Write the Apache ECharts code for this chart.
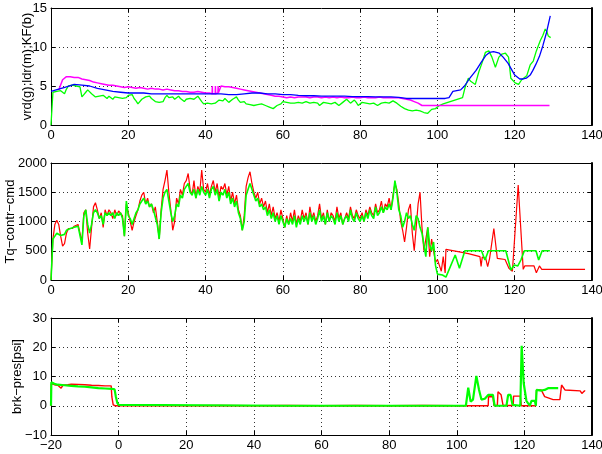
<!DOCTYPE html>
<html>
<head>
<meta charset="utf-8">
<script src="https://cdn.jsdelivr.net/npm/echarts@6/dist/echarts.min.js"></script>
<style>
  html, body { margin: 0; padding: 0; background: #fff; }
  #chart { width: 602px; height: 454px; }
</style>
</head>
<body>
<div id="chart"></div>
<script>
// ---------- Panel 1: speed estimates (vrd = green, ldr = magenta, KF = blue) ----------
// Green speed sampled every 0.5 from x = 0 up to x = 106
const vrdStep = [
  0, 4.2, 4.0, 4.3, 4.1, 4.4, 4.2, 4.0, 4.6, 5.0, 5.2, 5.1, 5.2, 5.0, 5.1, 4.9, 3.6, 3.9, 4.2, 4.5, 4.3,
  4.0, 3.8, 3.6, 3.8, 3.7, 3.5, 3.8, 3.6, 3.4, 3.7, 3.5, 3.3, 3.6, 3.4, 3.5, 3.7, 3.4, 3.3, 3.5,
  3.8, 3.6, 3.9, 3.4, 3.1, 2.7, 2.9, 3.3, 3.2, 3.6, 3.5, 3.7, 3.4, 3.3, 3.0, 3.2, 2.9, 3.1, 3.0,
  3.5, 3.8, 3.5, 3.4, 3.6, 3.3, 3.5, 3.7, 3.4, 3.2, 3.0, 3.3, 3.5, 3.4, 3.6, 3.3, 3.5, 3.7, 3.5,
  3.0, 2.7, 2.9, 2.8, 3.0, 2.7, 2.5, 2.8, 3.0, 3.2, 3.3, 3.1, 3.4, 3.2, 2.9, 3.1, 3.3, 3.5, 3.6,
  3.2, 2.9, 2.8, 3.0, 2.7, 2.9, 2.6, 2.8, 2.5, 2.7, 2.6, 2.4, 2.7, 2.8, 2.5, 2.7, 2.3, 2.2, 2.1,
  2.3, 2.5, 2.4, 2.7, 3.0, 3.2, 2.9, 2.7, 2.8, 2.6, 2.8, 3.0, 2.9, 3.1, 2.8, 2.7, 3.0, 2.9, 2.8,
  2.6, 2.9, 3.0, 2.8, 2.5, 2.7, 2.9, 3.1, 2.8, 3.0, 2.7, 2.6, 2.9, 2.8, 2.5, 2.7, 2.9, 3.0, 3.3,
  3.1, 2.8, 3.0, 3.2, 2.9, 2.5, 2.7, 2.9, 3.1, 2.8, 3.0, 2.7, 2.6, 2.8, 2.7, 2.5, 2.6, 2.8, 2.7,
  2.9, 3.0, 2.8, 3.0, 3.1, 2.9, 2.8, 2.6, 2.4, 2.2, 2.1, 2.0, 1.9, 1.9, 1.8, 1.8, 1.9, 1.8, 1.8,
  1.7, 1.6, 1.5, 1.5, 1.7, 2.0, 2.2, 2.1, 2.3, 2.5, 2.6, 2.7
];
const vrdTail = [
  [106.5, 3.5], [107.2, 4.9], [108, 6.0], [108.6, 5.6], [109, 5.8], [109.8, 5.2], [110.7, 6.8],
  [111.5, 7.9], [112.4, 9.3], [113.3, 9.5], [114.1, 8.7], [115, 7.4], [115.9, 8.7], [116.7, 9.1],
  [117.6, 9.2], [118.4, 8.7], [119, 6.0], [120.1, 5.4], [121, 5.2], [121.8, 5.8], [123.1, 6.3],
  [124, 7.7], [124.8, 8.2], [125.6, 9.5], [126.6, 10.8], [127.3, 11.5], [127.9, 12.3], [128.3, 12.0],
  [128.7, 11.4], [129.3, 11.2]
];

// Magenta speed, every 1.0 from x = 2 to 41, short spikes, then every 1.0 from x = 44 to 96
const ldrA = [
  4.5, 5.8, 6.2, 6.2, 6.1, 6.1, 5.9, 5.8, 5.7, 5.5, 5.4, 5.3, 5.2, 5.1, 5.1, 5.0, 4.9, 4.8, 4.9, 4.8,
  4.7, 4.8, 4.7, 4.6, 4.7, 4.6, 4.6, 4.5, 4.6, 4.5, 4.4, 4.4, 4.3, 4.3, 4.2, 4.2, 4.3, 4.2, 4.1, 4.1
];
const ldrSpikes = [
  [41.7, 4.0], [41.75, 5.0], [41.8, 4.0], [42.5, 4.0], [42.55, 5.0], [42.6, 4.0],
  [43.2, 4.1], [43.25, 5.0], [43.3, 4.1]
];
const ldrB = [
  5.0, 4.9, 4.9, 4.8, 4.7, 4.6, 4.5, 4.4, 4.3, 4.2, 4.1, 4.0, 3.9, 3.8, 3.7, 3.7, 3.6, 3.5, 3.6, 3.5, 3.6,
  3.6, 3.6, 3.5, 3.6, 3.6, 3.5, 3.6, 3.5, 3.6, 3.5, 3.6, 3.5, 3.5, 3.6, 3.5, 3.5,
  3.6, 3.5, 3.5, 3.5, 3.6, 3.5, 3.5, 3.5, 3.5, 3.5, 3.4, 3.3, 3.2, 3.0, 2.8, 2.5
];
const ldrTail = [[129, 2.5]];

// Blue filtered speed, every 2.0 from x = 0 to 102
const kfStep = [
  4.3, 4.6, 4.9, 5.2, 5.1, 5.0, 4.7, 4.5, 4.3, 4.2, 4.1, 4.1, 4.1, 4.0, 4.0, 4.0, 4.0, 4.0, 4.0, 4.0,
  4.0, 4.0, 4.0, 3.9, 3.9, 4.0, 4.1, 4.1, 4.0, 4.0, 3.9, 3.9, 3.8, 3.75, 3.75, 3.7, 3.7, 3.7, 3.7,
  3.65, 3.65, 3.65, 3.6, 3.6, 3.6, 3.55, 3.4, 3.4, 3.4, 3.4, 3.4, 3.4
];
const kfTail = [
  [103, 3.5], [104, 4.3], [105, 4.4], [106, 4.5], [107, 5.0], [108.4, 6.0], [110, 7.0], [111.4, 8.1],
  [112.5, 8.9], [113.5, 9.3], [114.5, 9.4], [116, 9.2], [117, 8.7], [118.3, 7.9], [119.2, 7.1],
  [120, 6.4], [121.3, 5.9], [122.2, 5.9], [123, 6.0], [124, 6.4], [124.7, 7.0], [125.5, 7.8],
  [126.4, 8.8], [127.3, 10.2], [128.2, 11.8], [129.2, 14.0]
];

// ---------- Panel 2: torque commands (red and green), every 0.5 from x = 0 to 100 ----------
const tqRedStep = [
  0, 700, 950, 1020, 950, 750, 580, 620, 800, 880, 900, 880, 920, 900, 950, 980, 650, 1150, 1200, 800,
  530, 900, 1250, 1320, 1200, 1050, 1150, 900, 1200, 1100, 1200, 1150, 1050, 1200, 1100, 1180, 1150, 1100, 750, 1300,
  1150, 1000, 850, 1000, 1100, 1200, 1350, 1450, 1500, 1300, 1400, 1250, 1300, 1150, 1250, 1000, 700, 1200, 1550, 1700,
  1880, 1500, 1200, 850, 1000, 1400, 1300, 1550, 1450, 1650, 1700, 1820, 1550, 1450, 1700, 1400, 1600, 1500, 1880, 1550,
  1500, 1650, 1450, 1600, 1700, 1500, 1650, 1400, 1600, 1550, 1650, 1450, 1600, 1350, 1500, 1300, 1450, 1200, 1100, 850,
  1100, 1600, 1750, 1850, 1650, 1500, 1400, 1500, 1300, 1400, 1250, 1350, 1150, 1300, 1100, 1250, 1050, 1150, 1000, 1200,
  1050, 900, 1100, 950, 1150, 1000, 1200, 950, 1100, 1000, 1200, 1050, 1150, 950, 1250, 1050, 1150, 1000, 1100, 1300,
  1050, 1150, 950, 1200, 1000, 1150, 1100, 1000, 1250, 1050, 1150, 950, 1050, 1150, 1050, 1250, 1100, 1050, 1200, 1100,
  1050, 1150, 1000, 1200, 1100, 1250, 1150, 1100, 1300, 1150, 1200, 1350, 1150, 1300, 1250, 1400, 1200, 1450, 1650, 1550,
  1300, 1000, 850, 650, 900, 1200, 1300, 800, 500, 900, 1300, 1500, 900, 500, 700, 900, 400, 700, 500, 300,
  350
];
const tqRedTail = [
  [100.5, 250], [101, 150], [101.5, 400], [102, 120], [102.2, 524], [105, 490], [108, 450], [111, 400],
  [111.3, 230], [111.6, 390], [112.5, 370], [113, 230], [113.5, 370], [114.6, 880], [115.5, 370],
  [117.5, 350], [118.5, 200], [119, 220], [119.4, 150], [120.9, 1624], [122.2, 182], [122.6, 240],
  [125, 240], [125.6, 125], [126.4, 240], [127, 182], [138.2, 182]
];
const tqGreenStep = [
  0, 700, 750, 800, 800, 760, 750, 780, 850, 870, 880, 860, 900, 880, 920, 950, 600, 1100, 1200, 950,
  800, 950, 1150, 1200, 1150, 1050, 1100, 950, 1150, 1100, 1150, 1100, 1150, 1050, 1150, 1100, 1150, 1050, 750, 1350,
  1100, 1050, 950, 1050, 1150, 1200, 1300, 1350, 1400, 1300, 1350, 1250, 1300, 1200, 1200, 950, 700, 1150, 1400, 1500,
  1550, 1350, 1150, 1000, 1100, 1300, 1250, 1450, 1400, 1550, 1600, 1650, 1500, 1450, 1550, 1400, 1550, 1450, 1600, 1500,
  1450, 1550, 1400, 1550, 1600, 1450, 1550, 1350, 1500, 1450, 1550, 1400, 1500, 1300, 1400, 1250, 1350, 1150, 1050, 850,
  1000, 1450, 1550, 1650, 1550, 1450, 1350, 1400, 1250, 1300, 1200, 1250, 1100, 1200, 1050, 1150, 1000, 1100, 950, 1100,
  1000, 900, 1050, 950, 1050, 950, 1100, 900, 1050, 950, 1100, 1000, 1100, 950, 1150, 1000, 1100, 950, 1050, 1200,
  1000, 1100, 950, 1150, 1000, 1100, 1050, 950, 1150, 1000, 1100, 950, 1050, 1100, 1000, 1200, 1050, 1000, 1150, 1050,
  1000, 1100, 1000, 1150, 1050, 1200, 1100, 1050, 1250, 1100, 1150, 1250, 1150, 1250, 1200, 1300, 1200, 1400, 1700, 1500,
  1200, 1100, 900, 1000, 1150, 1050, 1100, 950, 850, 1100, 1050, 900, 800, 600, 400, 900, 600, 500, 650, 250,
  100
];
const tqGreenTail = [
  [100.5, 70], [101.3, 85], [102.2, 50], [104.6, 427], [105.7, 200], [107.1, 500], [111.4, 500],
  [112.3, 342], [113.2, 500], [117.7, 500], [119, 171], [119.9, 256], [120.8, 240], [121.6, 342],
  [122.5, 500], [125.5, 500], [126.2, 342], [127.1, 500], [129.1, 500]
];

// ---------- Panel 3: brake pressure [psi] ----------
const brkRed = [
  [-20, 0], [-19.9, 7.5], [-19, 7.2], [-18, 7.0], [-17.5, 6.5], [-17, 6.0], [-16.5, 7.0], [-16, 7.5],
  [-15, 7.2], [-14, 7.4], [-12, 7.3], [-10, 7.2], [-8, 7.0], [-6, 6.9], [-4, 6.8], [-2.2, 6.8],
  [-2.0, 3.0], [-1.6, 0.3], [-1, 0], [10, 0.1], [20, 0], [30, 0.1], [40, 0], [50, 0.1], [60, 0],
  [70, 0.1], [80, 0], [90, 0.1], [100, 0], [109.3, 0], [109.4, 3.1], [110.7, 3.1], [111, 0.1],
  [112, 0.1], [112.2, 4.8], [112.6, 4.8], [113.1, 3.8], [113.7, 0.1], [116.7, 0.1], [116.8, 3.3],
  [118.8, 3.3], [119.1, 0], [123.4, 0], [123.6, 5.4], [125, 5.4], [126, 3.1], [128.5, 2.1],
  [130.5, 2.1], [131, 7.1], [132, 5.4], [136.5, 5.1], [137, 4.2], [137.8, 5.1], [138, 5.0]
];
const brkGreen = [
  [-20, 0], [-19.9, 8.0], [-19, 7.5], [-18, 7.2], [-16, 7.0], [-14, 6.8], [-12, 6.6], [-10, 6.5],
  [-8, 6.3], [-6, 6.0], [-4, 5.9], [-2, 5.8], [-1.2, 5.6], [-0.8, 3.0], [-0.4, 1.0], [0, 0.3],
  [0.5, 0], [50, 0], [102.7, 0], [103.4, 6.2], [104.1, 1.4], [104.8, 2.1], [105.8, 10.2],
  [106.6, 5.4], [107.3, 2.1], [108.3, 2.4], [109.3, 3.7], [110.7, 3.7], [111.2, 0], [114.7, 0],
  [115.2, 3.7], [115.9, 3.7], [116.5, 0.3], [118.8, 0], [119.2, 20.5], [119.8, 7.7], [120.6, 1.7],
  [121.6, 0], [122.1, 1.7], [123.1, 1.7], [123.4, 0], [123.6, 5.4], [125, 5.2], [126, 5.4],
  [127, 6.0], [130, 6.0]
];

// Axis ranges and tick spacing
const ax1 = { xmin: 0, xmax: 140, xstep: 20, ymin: 0, ymax: 15, ystep: 5, name: 'vrd(g);ldr(m);KF(b)' };
const ax2 = { xmin: 0, xmax: 140, xstep: 20, ymin: 0, ymax: 2000, ystep: 500, name: 'Tq\u2212contr\u2212cmd' };
const ax3 = { xmin: -20, xmax: 140, xstep: 20, ymin: -10, ymax: 30, ystep: 10, name: 'brk\u2212pres[psi]' };

function seq(x0, step, vals) {
  return vals.map((v, i) => [x0 + i * step, v]);
}

const FONT = 'Liberation Sans, Arial, Helvetica, sans-serif';
const fmt = v => String(v).replace('-', '\u2212');

const gridSpec = [
  { left: 51, top: 8, width: 541, height: 117, containLabel: false, outerBoundsMode: 'none' },
  { left: 51, top: 163, width: 541, height: 117, containLabel: false, outerBoundsMode: 'none' },
  { left: 51, top: 318, width: 541, height: 117, containLabel: false, outerBoundsMode: 'none' }
];
const axes = [ax1, ax2, ax3];
const nameGaps = [17, 34, 27];

const xAxis = [];
const yAxis = [];
axes.forEach((a, g) => {
  const common = {
    gridIndex: g, type: 'value', min: a.xmin, max: a.xmax, interval: a.xstep
  };
  xAxis.push(Object.assign({}, common, {
    position: 'bottom',
    axisLine: { show: true, onZero: false, lineStyle: { color: '#000', width: 1 } },
    axisTick: { show: true, inside: true, length: 4, lineStyle: { color: '#000' } },
    axisLabel: { color: '#000', fontSize: 13, fontFamily: FONT, margin: 4, formatter: fmt,
                 showMinLabel: true, showMaxLabel: true, hideOverlap: false },
    splitLine: { show: true, lineStyle: { color: '#333', type: [1, 3], width: 1 } }
  }));
  xAxis.push(Object.assign({}, common, {
    position: 'top',
    axisLine: { show: true, onZero: false, lineStyle: { color: '#000', width: 1 } },
    axisTick: { show: true, inside: true, length: 4, lineStyle: { color: '#000' } },
    axisLabel: { show: false },
    splitLine: { show: false }
  }));
  const ycommon = {
    gridIndex: g, type: 'value', min: a.ymin, max: a.ymax, interval: a.ystep
  };
  yAxis.push(Object.assign({}, ycommon, {
    position: 'left',
    name: a.name, nameLocation: 'middle', nameGap: nameGaps[g], nameMoveOverlap: false,
    nameTextStyle: { color: '#000', fontSize: 13, fontFamily: FONT },
    axisLine: { show: true, onZero: false, lineStyle: { color: '#000', width: 1 } },
    axisTick: { show: true, inside: true, length: 4, lineStyle: { color: '#000' } },
    axisLabel: { color: '#000', fontSize: 13, fontFamily: FONT, margin: 4, formatter: fmt,
                 showMinLabel: true, showMaxLabel: true },
    splitLine: { show: true, lineStyle: { color: '#333', type: [1, 3], width: 1 } }
  }));
  yAxis.push(Object.assign({}, ycommon, {
    position: 'right',
    axisLine: { show: true, onZero: false, lineStyle: { color: '#000', width: 2 } },
    axisTick: { show: true, inside: true, length: 4, lineStyle: { color: '#000' } },
    axisLabel: { show: false },
    splitLine: { show: false }
  }));
});

function line(data, color, width, xi, yi, z) {
  return {
    type: 'line', data, xAxisIndex: xi, yAxisIndex: yi, showSymbol: false, symbol: 'none',
    lineStyle: { color, width }, itemStyle: { color }, z: z || 2, silent: true
  };
}

const series = [
  line(seq(0, 0.5, vrdStep).concat(vrdTail), '#00ff00', 1.3, 0, 0, 2),
  line(seq(2, 1, ldrA).concat(ldrSpikes, seq(44, 1, ldrB), ldrTail), '#ff00ff', 1.5, 0, 0, 3),
  line(seq(0, 2, kfStep).concat(kfTail), '#0000ff', 1.3, 0, 0, 4),
  line(seq(0, 0.5, tqRedStep).concat(tqRedTail), '#ff0000', 1.2, 2, 2, 2),
  line(seq(0, 0.5, tqGreenStep).concat(tqGreenTail), '#00ff00', 1.6, 2, 2, 3),
  line(brkRed, '#ff0000', 1.4, 4, 4, 2),
  line(brkGreen, '#00ff00', 2.2, 4, 4, 3)
];

const chart = echarts.init(document.getElementById('chart'), null, { renderer: 'canvas' });
chart.setOption({
  animation: false,
  backgroundColor: '#fff',
  grid: gridSpec,
  xAxis, yAxis, series
});
</script>
</body>
</html>
